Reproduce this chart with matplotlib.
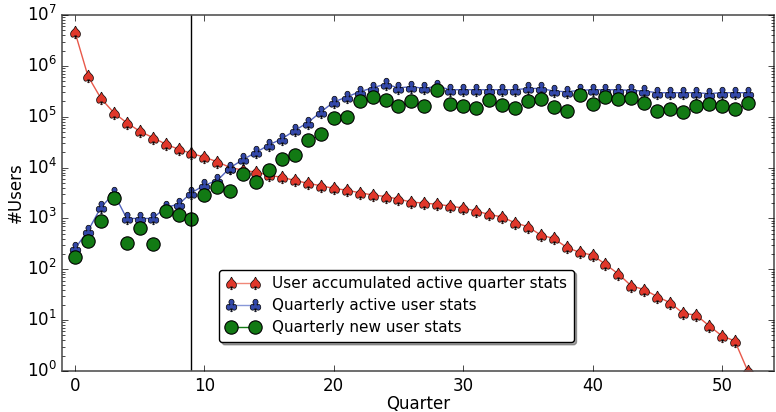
import numpy as np
import matplotlib
matplotlib.use('Agg')
import matplotlib.pyplot as plt
from matplotlib.lines import Line2D

plt.style.use('classic')

quarters = np.arange(53)

accumulated_active = [
    4.6e6, 6.3e5, 2.3e5, 1.2e5, 7.6e4, 5.2e4, 3.9e4, 2.9e4, 2.3e4, 1.9e4,
    1.6e4, 1.3e4, 1.0e4, 8.9e3, 8.1e3, 7.1e3, 6.4e3, 5.6e3, 4.9e3, 4.4e3,
    3.9e3, 3.6e3, 3.2e3, 2.9e3, 2.7e3, 2.4e3, 2.1e3, 2.0e3, 1.9e3, 1.75e3,
    1.6e3, 1.4e3, 1.2e3, 1.07e3, 820, 690, 470, 405, 270, 215,
    190, 125, 81, 47, 40, 29, 22, 13.6, 12.6, 7.8,
    4.9, 3.9, 1.0]

quarterly_active = [
    257, 570, 1.65e3, 3.1e3, 1.0e3, 1.0e3, 1.0e3, 1.65e3, 1.9e3, 3.2e3,
    4.5e3, 5.6e3, 1.0e4, 1.45e4, 2.0e4, 2.8e4, 3.7e4, 5.4e4, 7.7e4, 1.24e5,
    1.95e5, 2.45e5, 3.1e5, 3.7e5, 4.4e5, 3.7e5, 3.9e5, 3.6e5, 4.0e5, 3.4e5,
    3.4e5, 3.4e5, 3.4e5, 3.4e5, 3.4e5, 3.6e5, 3.6e5, 3.2e5, 3.1e5, 3.3e5,
    3.4e5, 3.4e5, 3.4e5, 3.3e5, 3.2e5, 2.97e5, 2.97e5, 2.97e5, 2.97e5, 2.85e5,
    2.97e5, 2.97e5, 2.97e5]

quarterly_new = [
    171, 363, 895, 2.5e3, 331, 655, 309, 1.4e3, 1.15e3, 955,
    2.9e3, 4.1e3, 3.5e3, 7.6e3, 5.3e3, 9.1e3, 1.47e4, 1.75e4, 3.56e4, 4.6e4,
    9.6e4, 1.0e5, 2.0e5, 2.4e5, 2.1e5, 1.6e5, 2.0e5, 1.6e5, 3.4e5, 1.8e5,
    1.6e5, 1.5e5, 2.1e5, 1.7e5, 1.5e5, 2.0e5, 2.2e5, 1.56e5, 1.3e5, 2.7e5,
    1.8e5, 2.45e5, 2.2e5, 2.3e5, 1.87e5, 1.28e5, 1.45e5, 1.24e5, 1.6e5, 1.8e5,
    1.6e5, 1.45e5, 1.87e5]

cutoff_quarter = 9

RED = '#e0372a'
BLUE = '#3348a8'
GREEN = '#127a14'
RED_LINE = '#e8584a'
BLUE_LINE = '#5566c0'

fig = plt.figure(figsize=(7.76, 4.12), dpi=100, facecolor='white')
ax = fig.add_axes([0.08, 0.0995, 0.917, 0.864])
ax.set_facecolor('white')

ax.plot(quarters, accumulated_active, '-', color=RED_LINE, lw=1,
        marker=r'$\spadesuit$', ms=9, mfc=RED, mec='black', mew=0.5)
ax.plot(quarters, quarterly_active, '-', color=BLUE_LINE, lw=1,
        marker=r'$\clubsuit$', ms=9, mfc=BLUE, mec='black', mew=0.5)
ax.plot(quarters, quarterly_new, linestyle='none', marker='o', ms=9.6,
        mfc=GREEN, mec='black', mew=0.8)
ax.axvline(cutoff_quarter, color='black', lw=1)

handles = [
    Line2D([], [], color='#f08878', lw=1, marker=r'$\spadesuit$', ms=9,
           mfc=RED, mec='black', mew=0.5),
    Line2D([], [], color='#8898d8', lw=1, marker=r'$\clubsuit$', ms=9,
           mfc=BLUE, mec='black', mew=0.5),
    Line2D([], [], color=GREEN, lw=1, marker='o', ms=9.6,
           mfc=GREEN, mec='black', mew=0.8),
]
labels = ['User accumulated active quarter stats',
          'Quarterly active user stats',
          'Quarterly new user stats']
leg = ax.legend(handles, labels, loc='lower left', bbox_to_anchor=(0.21, 0.06),
                numpoints=2, fontsize=11, fancybox=True, shadow=True,
                handlelength=2.2, labelspacing=0.45, borderpad=0.45)
leg.get_frame().set_edgecolor('black')

ax.set_yscale('log')
ax.set_xlim(-1, 54)
ax.set_ylim(1, 1e7)
ax.set_xlabel('Quarter', fontsize=12, labelpad=0)
ax.set_ylabel('#Users', fontsize=12, labelpad=1)
ax.tick_params(labelsize=12)
for spine in ax.spines.values():
    spine.set_color('#555555')
    spine.set_linewidth(1.2)

fig.savefig('out.png', dpi=100, facecolor='white')
